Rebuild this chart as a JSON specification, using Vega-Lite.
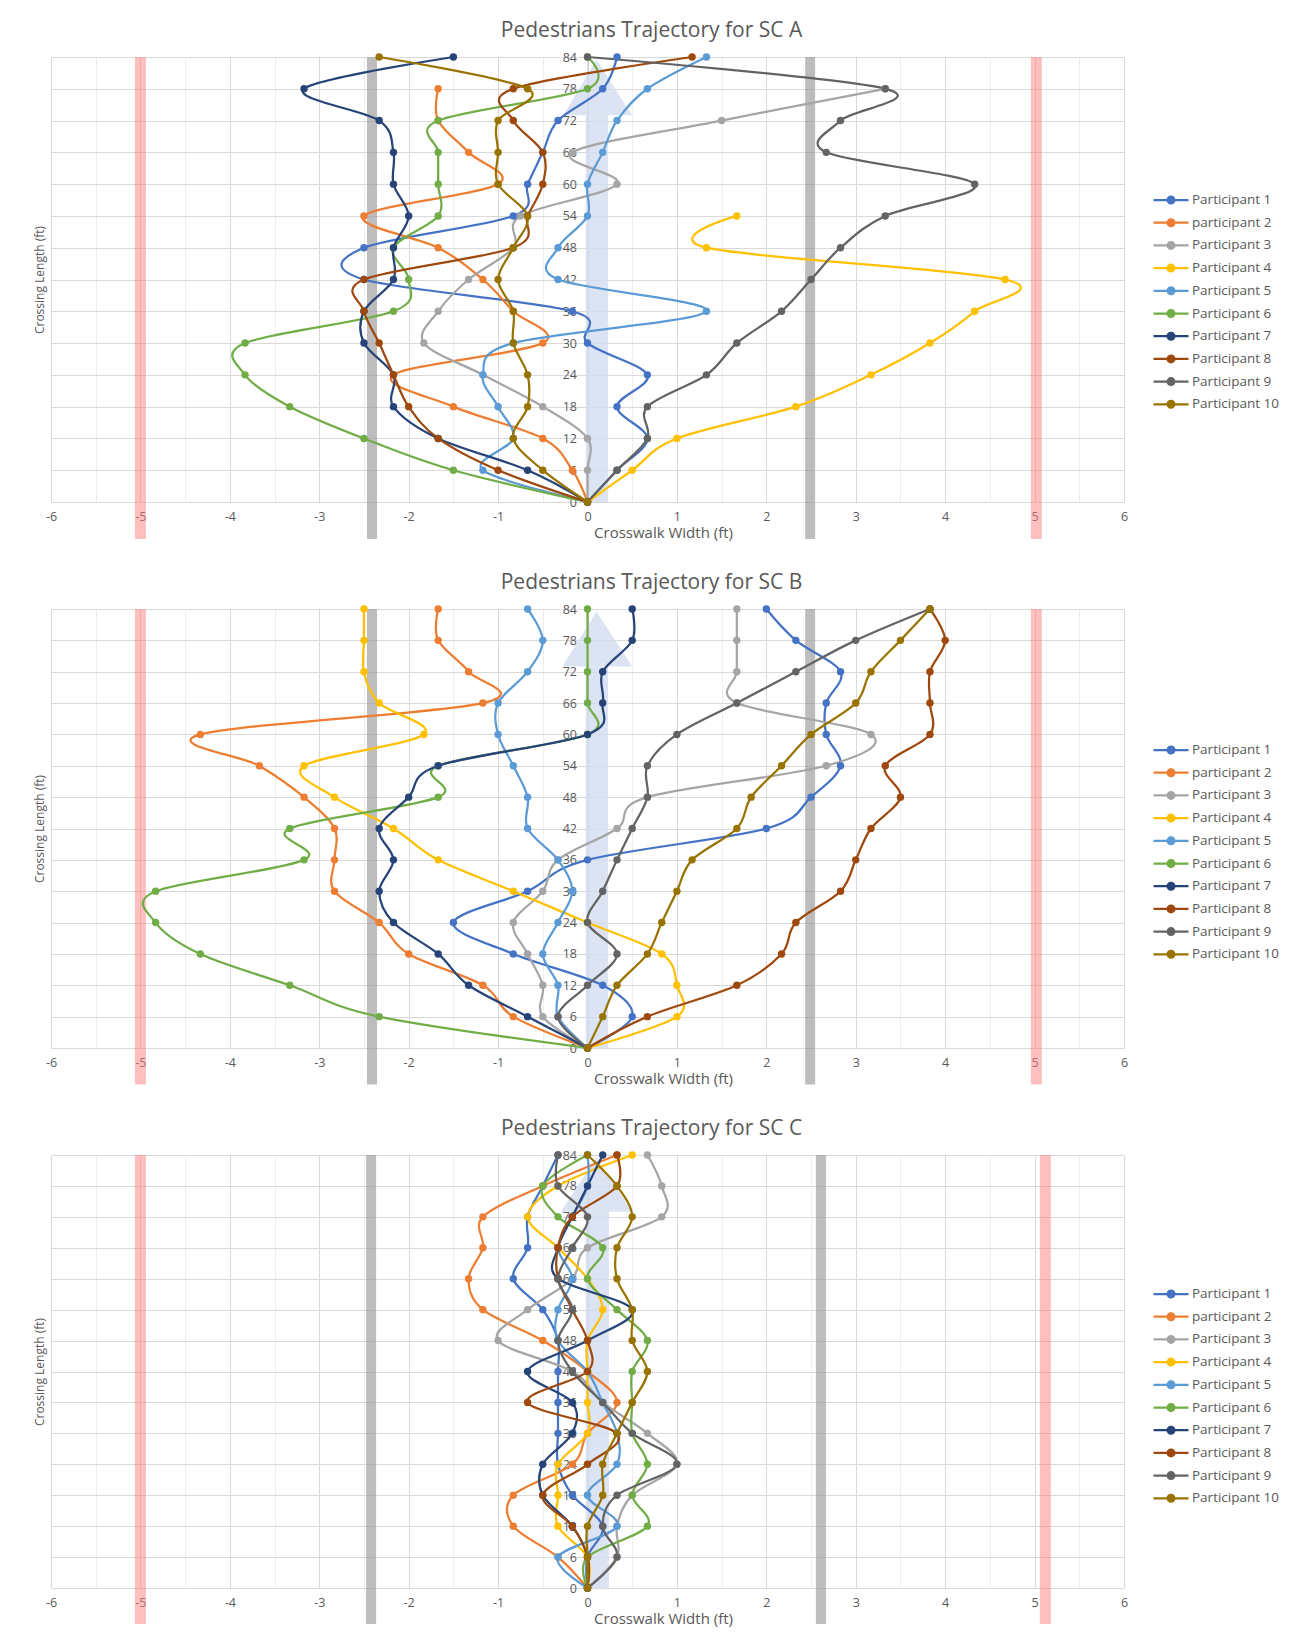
{
  "$schema": "https://vega.github.io/schema/vega-lite/v6.json",
  "padding": {"top": 20, "left": 33, "right": 0, "bottom": 0},
  "config": {
    "view": {"stroke": null},
    "font": "Open Sans",
    "axis": {"labelColor": "#595959", "titleColor": "#595959", "titleFontWeight": "normal", "labelFont": "Open Sans", "titleFont": "Open Sans"},
    "title": {"font": "Open Sans", "fontSize": 21, "fontWeight": "normal", "color": "#595959", "anchor": "middle", "baseline": "bottom", "offset": 9.6, "dx": 64},
    "legend": {"labelFont": "Open Sans"}
  },
  "datasets": {
    "scA": [
      {"participant":"Participant 1","y":0,"x":0},{"participant":"Participant 1","y":6,"x":0.33},{"participant":"Participant 1","y":12,"x":0.67},{"participant":"Participant 1","y":18,"x":0.33},{"participant":"Participant 1","y":24,"x":0.67},{"participant":"Participant 1","y":30,"x":0},{"participant":"Participant 1","y":36,"x":-0.17},{"participant":"Participant 1","y":42,"x":-2.5},{"participant":"Participant 1","y":48,"x":-2.5},{"participant":"Participant 1","y":54,"x":-0.83},{"participant":"Participant 1","y":60,"x":-0.67},{"participant":"Participant 1","y":66,"x":-0.5},{"participant":"Participant 1","y":72,"x":-0.33},{"participant":"Participant 1","y":78,"x":0.17},{"participant":"Participant 1","y":84,"x":0.33},
      {"participant":"participant 2","y":0,"x":0},{"participant":"participant 2","y":6,"x":-0.17},{"participant":"participant 2","y":12,"x":-0.5},{"participant":"participant 2","y":18,"x":-1.5},{"participant":"participant 2","y":24,"x":-2.17},{"participant":"participant 2","y":30,"x":-0.5},{"participant":"participant 2","y":36,"x":-0.83},{"participant":"participant 2","y":42,"x":-1.17},{"participant":"participant 2","y":48,"x":-1.67},{"participant":"participant 2","y":54,"x":-2.5},{"participant":"participant 2","y":60,"x":-1.0},{"participant":"participant 2","y":66,"x":-1.33},{"participant":"participant 2","y":72,"x":-1.67},{"participant":"participant 2","y":78,"x":-1.67},
      {"participant":"Participant 3","y":0,"x":0},{"participant":"Participant 3","y":6,"x":0},{"participant":"Participant 3","y":12,"x":0},{"participant":"Participant 3","y":18,"x":-0.5},{"participant":"Participant 3","y":24,"x":-1.17},{"participant":"Participant 3","y":30,"x":-1.83},{"participant":"Participant 3","y":36,"x":-1.67},{"participant":"Participant 3","y":42,"x":-1.33},{"participant":"Participant 3","y":48,"x":-0.83},{"participant":"Participant 3","y":54,"x":-0.75},{"participant":"Participant 3","y":60,"x":0.33},{"participant":"Participant 3","y":66,"x":-0.17},{"participant":"Participant 3","y":72,"x":1.5},{"participant":"Participant 3","y":78,"x":3.33},
      {"participant":"Participant 4","y":0,"x":0},{"participant":"Participant 4","y":6,"x":0.5},{"participant":"Participant 4","y":12,"x":1.0},{"participant":"Participant 4","y":18,"x":2.33},{"participant":"Participant 4","y":24,"x":3.17},{"participant":"Participant 4","y":30,"x":3.83},{"participant":"Participant 4","y":36,"x":4.33},{"participant":"Participant 4","y":42,"x":4.67},{"participant":"Participant 4","y":48,"x":1.33},{"participant":"Participant 4","y":54,"x":1.67},
      {"participant":"Participant 5","y":0,"x":0},{"participant":"Participant 5","y":6,"x":-1.17},{"participant":"Participant 5","y":12,"x":-0.83},{"participant":"Participant 5","y":18,"x":-1.0},{"participant":"Participant 5","y":24,"x":-1.17},{"participant":"Participant 5","y":30,"x":-0.83},{"participant":"Participant 5","y":36,"x":1.33},{"participant":"Participant 5","y":42,"x":-0.33},{"participant":"Participant 5","y":48,"x":-0.33},{"participant":"Participant 5","y":54,"x":0},{"participant":"Participant 5","y":60,"x":0},{"participant":"Participant 5","y":66,"x":0.17},{"participant":"Participant 5","y":72,"x":0.33},{"participant":"Participant 5","y":78,"x":0.67},{"participant":"Participant 5","y":84,"x":1.33},
      {"participant":"Participant 6","y":0,"x":0},{"participant":"Participant 6","y":6,"x":-1.5},{"participant":"Participant 6","y":12,"x":-2.5},{"participant":"Participant 6","y":18,"x":-3.33},{"participant":"Participant 6","y":24,"x":-3.83},{"participant":"Participant 6","y":30,"x":-3.83},{"participant":"Participant 6","y":36,"x":-2.17},{"participant":"Participant 6","y":42,"x":-2.0},{"participant":"Participant 6","y":48,"x":-2.17},{"participant":"Participant 6","y":54,"x":-1.67},{"participant":"Participant 6","y":60,"x":-1.67},{"participant":"Participant 6","y":66,"x":-1.67},{"participant":"Participant 6","y":72,"x":-1.67},{"participant":"Participant 6","y":78,"x":0},{"participant":"Participant 6","y":84,"x":0},
      {"participant":"Participant 7","y":0,"x":0},{"participant":"Participant 7","y":6,"x":-0.67},{"participant":"Participant 7","y":12,"x":-1.67},{"participant":"Participant 7","y":18,"x":-2.17},{"participant":"Participant 7","y":24,"x":-2.17},{"participant":"Participant 7","y":30,"x":-2.5},{"participant":"Participant 7","y":36,"x":-2.5},{"participant":"Participant 7","y":42,"x":-2.17},{"participant":"Participant 7","y":48,"x":-2.17},{"participant":"Participant 7","y":54,"x":-2.0},{"participant":"Participant 7","y":60,"x":-2.17},{"participant":"Participant 7","y":66,"x":-2.17},{"participant":"Participant 7","y":72,"x":-2.33},{"participant":"Participant 7","y":78,"x":-3.17},{"participant":"Participant 7","y":84,"x":-1.5},
      {"participant":"Participant 8","y":0,"x":0},{"participant":"Participant 8","y":6,"x":-1.0},{"participant":"Participant 8","y":12,"x":-1.67},{"participant":"Participant 8","y":18,"x":-2.0},{"participant":"Participant 8","y":24,"x":-2.17},{"participant":"Participant 8","y":30,"x":-2.33},{"participant":"Participant 8","y":36,"x":-2.5},{"participant":"Participant 8","y":42,"x":-2.5},{"participant":"Participant 8","y":48,"x":-0.83},{"participant":"Participant 8","y":54,"x":-0.67},{"participant":"Participant 8","y":60,"x":-0.5},{"participant":"Participant 8","y":66,"x":-0.5},{"participant":"Participant 8","y":72,"x":-0.83},{"participant":"Participant 8","y":78,"x":-0.83},{"participant":"Participant 8","y":84,"x":1.17},
      {"participant":"Participant 9","y":0,"x":0},{"participant":"Participant 9","y":6,"x":0.33},{"participant":"Participant 9","y":12,"x":0.67},{"participant":"Participant 9","y":18,"x":0.67},{"participant":"Participant 9","y":24,"x":1.33},{"participant":"Participant 9","y":30,"x":1.67},{"participant":"Participant 9","y":36,"x":2.17},{"participant":"Participant 9","y":42,"x":2.5},{"participant":"Participant 9","y":48,"x":2.83},{"participant":"Participant 9","y":54,"x":3.33},{"participant":"Participant 9","y":60,"x":4.33},{"participant":"Participant 9","y":66,"x":2.67},{"participant":"Participant 9","y":72,"x":2.83},{"participant":"Participant 9","y":78,"x":3.33},{"participant":"Participant 9","y":84,"x":0},
      {"participant":"Participant 10","y":0,"x":0},{"participant":"Participant 10","y":6,"x":-0.5},{"participant":"Participant 10","y":12,"x":-0.83},{"participant":"Participant 10","y":18,"x":-0.67},{"participant":"Participant 10","y":24,"x":-0.67},{"participant":"Participant 10","y":30,"x":-0.83},{"participant":"Participant 10","y":36,"x":-0.83},{"participant":"Participant 10","y":42,"x":-1.0},{"participant":"Participant 10","y":48,"x":-0.83},{"participant":"Participant 10","y":54,"x":-0.67},{"participant":"Participant 10","y":60,"x":-1.0},{"participant":"Participant 10","y":66,"x":-1.0},{"participant":"Participant 10","y":72,"x":-1.0},{"participant":"Participant 10","y":78,"x":-0.67},{"participant":"Participant 10","y":84,"x":-2.33}
    ],
    "scB": [
      {"participant":"Participant 1","y":0,"x":0},{"participant":"Participant 1","y":6,"x":0.5},{"participant":"Participant 1","y":12,"x":0.17},{"participant":"Participant 1","y":18,"x":-0.83},{"participant":"Participant 1","y":24,"x":-1.5},{"participant":"Participant 1","y":30,"x":-0.67},{"participant":"Participant 1","y":36,"x":0},{"participant":"Participant 1","y":42,"x":2.0},{"participant":"Participant 1","y":48,"x":2.5},{"participant":"Participant 1","y":54,"x":2.83},{"participant":"Participant 1","y":60,"x":2.67},{"participant":"Participant 1","y":66,"x":2.67},{"participant":"Participant 1","y":72,"x":2.83},{"participant":"Participant 1","y":78,"x":2.33},{"participant":"Participant 1","y":84,"x":2.0},
      {"participant":"participant 2","y":0,"x":0},{"participant":"participant 2","y":6,"x":-0.83},{"participant":"participant 2","y":12,"x":-1.17},{"participant":"participant 2","y":18,"x":-2.0},{"participant":"participant 2","y":24,"x":-2.33},{"participant":"participant 2","y":30,"x":-2.83},{"participant":"participant 2","y":36,"x":-2.83},{"participant":"participant 2","y":42,"x":-2.83},{"participant":"participant 2","y":48,"x":-3.17},{"participant":"participant 2","y":54,"x":-3.67},{"participant":"participant 2","y":60,"x":-4.33},{"participant":"participant 2","y":66,"x":-1.17},{"participant":"participant 2","y":72,"x":-1.33},{"participant":"participant 2","y":78,"x":-1.67},{"participant":"participant 2","y":84,"x":-1.67},
      {"participant":"Participant 3","y":0,"x":0},{"participant":"Participant 3","y":6,"x":-0.5},{"participant":"Participant 3","y":12,"x":-0.5},{"participant":"Participant 3","y":18,"x":-0.67},{"participant":"Participant 3","y":24,"x":-0.83},{"participant":"Participant 3","y":30,"x":-0.5},{"participant":"Participant 3","y":36,"x":-0.33},{"participant":"Participant 3","y":42,"x":0.33},{"participant":"Participant 3","y":48,"x":0.67},{"participant":"Participant 3","y":54,"x":2.67},{"participant":"Participant 3","y":60,"x":3.17},{"participant":"Participant 3","y":66,"x":1.67},{"participant":"Participant 3","y":72,"x":1.67},{"participant":"Participant 3","y":78,"x":1.67},{"participant":"Participant 3","y":84,"x":1.67},
      {"participant":"Participant 4","y":0,"x":0},{"participant":"Participant 4","y":6,"x":1.0},{"participant":"Participant 4","y":12,"x":1.0},{"participant":"Participant 4","y":18,"x":0.83},{"participant":"Participant 4","y":24,"x":0},{"participant":"Participant 4","y":30,"x":-0.83},{"participant":"Participant 4","y":36,"x":-1.67},{"participant":"Participant 4","y":42,"x":-2.17},{"participant":"Participant 4","y":48,"x":-2.83},{"participant":"Participant 4","y":54,"x":-3.17},{"participant":"Participant 4","y":60,"x":-1.83},{"participant":"Participant 4","y":66,"x":-2.33},{"participant":"Participant 4","y":72,"x":-2.5},{"participant":"Participant 4","y":78,"x":-2.5},{"participant":"Participant 4","y":84,"x":-2.5},
      {"participant":"Participant 5","y":0,"x":0},{"participant":"Participant 5","y":6,"x":-0.33},{"participant":"Participant 5","y":12,"x":-0.33},{"participant":"Participant 5","y":18,"x":-0.5},{"participant":"Participant 5","y":24,"x":-0.33},{"participant":"Participant 5","y":30,"x":-0.17},{"participant":"Participant 5","y":36,"x":-0.33},{"participant":"Participant 5","y":42,"x":-0.67},{"participant":"Participant 5","y":48,"x":-0.67},{"participant":"Participant 5","y":54,"x":-0.83},{"participant":"Participant 5","y":60,"x":-1.0},{"participant":"Participant 5","y":66,"x":-1.0},{"participant":"Participant 5","y":72,"x":-0.67},{"participant":"Participant 5","y":78,"x":-0.5},{"participant":"Participant 5","y":84,"x":-0.67},
      {"participant":"Participant 6","y":0,"x":0},{"participant":"Participant 6","y":6,"x":-2.33},{"participant":"Participant 6","y":12,"x":-3.33},{"participant":"Participant 6","y":18,"x":-4.33},{"participant":"Participant 6","y":24,"x":-4.83},{"participant":"Participant 6","y":30,"x":-4.83},{"participant":"Participant 6","y":36,"x":-3.17},{"participant":"Participant 6","y":42,"x":-3.33},{"participant":"Participant 6","y":48,"x":-1.67},{"participant":"Participant 6","y":54,"x":-1.67},{"participant":"Participant 6","y":60,"x":0},{"participant":"Participant 6","y":66,"x":0},{"participant":"Participant 6","y":72,"x":0},{"participant":"Participant 6","y":78,"x":0},{"participant":"Participant 6","y":84,"x":0},
      {"participant":"Participant 7","y":0,"x":0},{"participant":"Participant 7","y":6,"x":-0.67},{"participant":"Participant 7","y":12,"x":-1.33},{"participant":"Participant 7","y":18,"x":-1.67},{"participant":"Participant 7","y":24,"x":-2.17},{"participant":"Participant 7","y":30,"x":-2.33},{"participant":"Participant 7","y":36,"x":-2.17},{"participant":"Participant 7","y":42,"x":-2.33},{"participant":"Participant 7","y":48,"x":-2.0},{"participant":"Participant 7","y":54,"x":-1.67},{"participant":"Participant 7","y":60,"x":0},{"participant":"Participant 7","y":66,"x":0.17},{"participant":"Participant 7","y":72,"x":0.17},{"participant":"Participant 7","y":78,"x":0.5},{"participant":"Participant 7","y":84,"x":0.5},
      {"participant":"Participant 8","y":0,"x":0},{"participant":"Participant 8","y":6,"x":0.67},{"participant":"Participant 8","y":12,"x":1.67},{"participant":"Participant 8","y":18,"x":2.17},{"participant":"Participant 8","y":24,"x":2.33},{"participant":"Participant 8","y":30,"x":2.83},{"participant":"Participant 8","y":36,"x":3.0},{"participant":"Participant 8","y":42,"x":3.17},{"participant":"Participant 8","y":48,"x":3.5},{"participant":"Participant 8","y":54,"x":3.33},{"participant":"Participant 8","y":60,"x":3.83},{"participant":"Participant 8","y":66,"x":3.83},{"participant":"Participant 8","y":72,"x":3.83},{"participant":"Participant 8","y":78,"x":4.0},{"participant":"Participant 8","y":84,"x":3.83},
      {"participant":"Participant 9","y":0,"x":0},{"participant":"Participant 9","y":6,"x":-0.33},{"participant":"Participant 9","y":12,"x":0},{"participant":"Participant 9","y":18,"x":0.33},{"participant":"Participant 9","y":24,"x":0},{"participant":"Participant 9","y":30,"x":0.17},{"participant":"Participant 9","y":36,"x":0.33},{"participant":"Participant 9","y":42,"x":0.5},{"participant":"Participant 9","y":48,"x":0.67},{"participant":"Participant 9","y":54,"x":0.67},{"participant":"Participant 9","y":60,"x":1.0},{"participant":"Participant 9","y":66,"x":1.67},{"participant":"Participant 9","y":72,"x":2.33},{"participant":"Participant 9","y":78,"x":3.0},{"participant":"Participant 9","y":84,"x":3.83},
      {"participant":"Participant 10","y":0,"x":0},{"participant":"Participant 10","y":6,"x":0.17},{"participant":"Participant 10","y":12,"x":0.33},{"participant":"Participant 10","y":18,"x":0.67},{"participant":"Participant 10","y":24,"x":0.83},{"participant":"Participant 10","y":30,"x":1.0},{"participant":"Participant 10","y":36,"x":1.17},{"participant":"Participant 10","y":42,"x":1.67},{"participant":"Participant 10","y":48,"x":1.83},{"participant":"Participant 10","y":54,"x":2.17},{"participant":"Participant 10","y":60,"x":2.5},{"participant":"Participant 10","y":66,"x":3.0},{"participant":"Participant 10","y":72,"x":3.17},{"participant":"Participant 10","y":78,"x":3.5},{"participant":"Participant 10","y":84,"x":3.83}
    ],
    "scC": [
      {"participant":"Participant 1","y":0,"x":0},{"participant":"Participant 1","y":6,"x":0},{"participant":"Participant 1","y":12,"x":0.17},{"participant":"Participant 1","y":18,"x":-0.17},{"participant":"Participant 1","y":24,"x":-0.33},{"participant":"Participant 1","y":30,"x":-0.33},{"participant":"Participant 1","y":36,"x":-0.33},{"participant":"Participant 1","y":42,"x":-0.33},{"participant":"Participant 1","y":48,"x":-0.33},{"participant":"Participant 1","y":54,"x":-0.5},{"participant":"Participant 1","y":60,"x":-0.83},{"participant":"Participant 1","y":66,"x":-0.67},{"participant":"Participant 1","y":72,"x":-0.67},{"participant":"Participant 1","y":78,"x":-0.5},{"participant":"Participant 1","y":84,"x":-0.33},
      {"participant":"participant 2","y":0,"x":0},{"participant":"participant 2","y":6,"x":-0.33},{"participant":"participant 2","y":12,"x":-0.83},{"participant":"participant 2","y":18,"x":-0.83},{"participant":"participant 2","y":24,"x":-0.17},{"participant":"participant 2","y":30,"x":0},{"participant":"participant 2","y":36,"x":0.33},{"participant":"participant 2","y":42,"x":0},{"participant":"participant 2","y":48,"x":-0.5},{"participant":"participant 2","y":54,"x":-1.17},{"participant":"participant 2","y":60,"x":-1.33},{"participant":"participant 2","y":66,"x":-1.17},{"participant":"participant 2","y":72,"x":-1.17},{"participant":"participant 2","y":78,"x":-0.5},{"participant":"participant 2","y":84,"x":0.33},
      {"participant":"Participant 3","y":0,"x":0},{"participant":"Participant 3","y":6,"x":0.33},{"participant":"Participant 3","y":12,"x":0.33},{"participant":"Participant 3","y":18,"x":0.5},{"participant":"Participant 3","y":24,"x":1.0},{"participant":"Participant 3","y":30,"x":0.67},{"participant":"Participant 3","y":36,"x":0.17},{"participant":"Participant 3","y":42,"x":-0.17},{"participant":"Participant 3","y":48,"x":-1.0},{"participant":"Participant 3","y":54,"x":-0.67},{"participant":"Participant 3","y":60,"x":-0.17},{"participant":"Participant 3","y":66,"x":0},{"participant":"Participant 3","y":72,"x":0.83},{"participant":"Participant 3","y":78,"x":0.83},{"participant":"Participant 3","y":84,"x":0.67},
      {"participant":"Participant 4","y":0,"x":0},{"participant":"Participant 4","y":6,"x":0},{"participant":"Participant 4","y":12,"x":-0.33},{"participant":"Participant 4","y":18,"x":-0.33},{"participant":"Participant 4","y":24,"x":-0.33},{"participant":"Participant 4","y":30,"x":0},{"participant":"Participant 4","y":36,"x":0},{"participant":"Participant 4","y":42,"x":0},{"participant":"Participant 4","y":48,"x":0},{"participant":"Participant 4","y":54,"x":0.17},{"participant":"Participant 4","y":60,"x":0},{"participant":"Participant 4","y":66,"x":-0.33},{"participant":"Participant 4","y":72,"x":-0.67},{"participant":"Participant 4","y":78,"x":-0.33},{"participant":"Participant 4","y":84,"x":0.5},
      {"participant":"Participant 5","y":0,"x":0},{"participant":"Participant 5","y":6,"x":-0.33},{"participant":"Participant 5","y":12,"x":0.33},{"participant":"Participant 5","y":18,"x":0},{"participant":"Participant 5","y":24,"x":0.33},{"participant":"Participant 5","y":30,"x":0.33},{"participant":"Participant 5","y":36,"x":0.17},{"participant":"Participant 5","y":42,"x":0},{"participant":"Participant 5","y":48,"x":-0.33},{"participant":"Participant 5","y":54,"x":-0.33},{"participant":"Participant 5","y":60,"x":-0.17},{"participant":"Participant 5","y":66,"x":-0.33},{"participant":"Participant 5","y":72,"x":-0.17},{"participant":"Participant 5","y":78,"x":0},{"participant":"Participant 5","y":84,"x":0},
      {"participant":"Participant 6","y":0,"x":0},{"participant":"Participant 6","y":6,"x":0},{"participant":"Participant 6","y":12,"x":0.67},{"participant":"Participant 6","y":18,"x":0.5},{"participant":"Participant 6","y":24,"x":0.67},{"participant":"Participant 6","y":30,"x":0.5},{"participant":"Participant 6","y":36,"x":0.5},{"participant":"Participant 6","y":42,"x":0.5},{"participant":"Participant 6","y":48,"x":0.67},{"participant":"Participant 6","y":54,"x":0.33},{"participant":"Participant 6","y":60,"x":0},{"participant":"Participant 6","y":66,"x":0.17},{"participant":"Participant 6","y":72,"x":-0.33},{"participant":"Participant 6","y":78,"x":-0.5},{"participant":"Participant 6","y":84,"x":0},
      {"participant":"Participant 7","y":0,"x":0},{"participant":"Participant 7","y":6,"x":0},{"participant":"Participant 7","y":12,"x":-0.17},{"participant":"Participant 7","y":18,"x":-0.5},{"participant":"Participant 7","y":24,"x":-0.5},{"participant":"Participant 7","y":30,"x":-0.17},{"participant":"Participant 7","y":36,"x":-0.17},{"participant":"Participant 7","y":42,"x":-0.67},{"participant":"Participant 7","y":48,"x":0},{"participant":"Participant 7","y":54,"x":0.5},{"participant":"Participant 7","y":60,"x":-0.33},{"participant":"Participant 7","y":66,"x":-0.33},{"participant":"Participant 7","y":72,"x":-0.17},{"participant":"Participant 7","y":78,"x":0},{"participant":"Participant 7","y":84,"x":0.17},
      {"participant":"Participant 8","y":0,"x":0},{"participant":"Participant 8","y":6,"x":0},{"participant":"Participant 8","y":12,"x":-0.17},{"participant":"Participant 8","y":18,"x":-0.5},{"participant":"Participant 8","y":24,"x":0},{"participant":"Participant 8","y":30,"x":0.33},{"participant":"Participant 8","y":36,"x":-0.67},{"participant":"Participant 8","y":42,"x":0},{"participant":"Participant 8","y":48,"x":0},{"participant":"Participant 8","y":54,"x":-0.17},{"participant":"Participant 8","y":60,"x":-0.33},{"participant":"Participant 8","y":66,"x":-0.33},{"participant":"Participant 8","y":72,"x":-0.17},{"participant":"Participant 8","y":78,"x":0.33},{"participant":"Participant 8","y":84,"x":0.33},
      {"participant":"Participant 9","y":0,"x":0},{"participant":"Participant 9","y":6,"x":0.33},{"participant":"Participant 9","y":12,"x":0.17},{"participant":"Participant 9","y":18,"x":0.33},{"participant":"Participant 9","y":24,"x":1.0},{"participant":"Participant 9","y":30,"x":0.5},{"participant":"Participant 9","y":36,"x":0.17},{"participant":"Participant 9","y":42,"x":-0.17},{"participant":"Participant 9","y":48,"x":-0.33},{"participant":"Participant 9","y":54,"x":-0.17},{"participant":"Participant 9","y":60,"x":-0.33},{"participant":"Participant 9","y":66,"x":-0.17},{"participant":"Participant 9","y":72,"x":0},{"participant":"Participant 9","y":78,"x":-0.33},{"participant":"Participant 9","y":84,"x":-0.33},
      {"participant":"Participant 10","y":0,"x":0},{"participant":"Participant 10","y":6,"x":0},{"participant":"Participant 10","y":12,"x":0},{"participant":"Participant 10","y":18,"x":0.17},{"participant":"Participant 10","y":24,"x":0.17},{"participant":"Participant 10","y":30,"x":0.33},{"participant":"Participant 10","y":36,"x":0.5},{"participant":"Participant 10","y":42,"x":0.67},{"participant":"Participant 10","y":48,"x":0.5},{"participant":"Participant 10","y":54,"x":0.5},{"participant":"Participant 10","y":60,"x":0.33},{"participant":"Participant 10","y":66,"x":0.33},{"participant":"Participant 10","y":72,"x":0.5},{"participant":"Participant 10","y":78,"x":0.33},{"participant":"Participant 10","y":84,"x":0}
    ]
  },
  "bounds": "flush",
  "spacing": 107,
  "resolve": {
    "scale": {"x": "independent", "y": "independent", "color": "independent"},
    "axis": {"x": "independent", "y": "independent"},
    "legend": {"color": "independent"}
  },
  "vconcat": [
    {
      "width": 1073,
      "height": 445,
      "title": {"text": "Pedestrians Trajectory for SC A"},
      "encoding": {
        "x": {"field": "x", "type": "quantitative", "scale": {"domain": [-6, 6], "nice": false},
          "axis": {"title": "Crosswalk Width (ft)", "values": [-6,-5.5,-5,-4.5,-4,-3.5,-3,-2.5,-2,-1.5,-1,-0.5,0,0.5,1,1.5,2,2.5,3,3.5,4,4.5,5,5.5,6], "labelExpr": "datum.value % 1 === 0 ? '' + datum.value : ''", "labelOverlap": false, "labelFlush": false, "ticks": false, "domain": true, "domainColor": "#D9D9D9", "grid": true, "gridColor": {"condition": {"test": "datum.value % 1 === 0", "value": "#D9D9D9"}, "value": "#EEEEEE"}, "labelFontSize": 12.5, "labelPadding": 8, "titleFontSize": 15, "titlePadding": 3, "titleX": 612, "zindex": 0}}
      },
      "layer": [
        {
          "data": {"values": [{"x": -5}, {"x": 5.02}]},
          "mark": {"type": "rule", "color": "#FF8080", "opacity": 0.5, "strokeWidth": 11},
          "encoding": {
            "y": {"datum": 84, "type": "quantitative", "scale": {"domain": [0, 84], "nice": false},
              "axis": {"title": "Crossing Length (ft)", "orient": "left", "values": [0,6,12,18,24,30,36,42,48,54,60,66,72,78,84], "labels": false, "ticks": false, "domain": false, "grid": true, "gridColor": "#D9D9D9", "titleFontSize": 12, "titlePadding": 5, "zindex": 0}},
            "y2": {"datum": -7}
          }
        },
        {
          "data": {"values": [{"x": -2.41}, {"x": 2.49}]},
          "mark": {"type": "rule", "color": "#9A9A9A", "opacity": 0.65, "strokeWidth": 10},
          "encoding": {"y": {"datum": 84, "type": "quantitative", "axis": null}, "y2": {"datum": -7}}
        },
        {
          "data": {"values": [{"x": -0.02, "x2": 0.23, "y": 0, "y2": 73}]},
          "mark": {"type": "rect", "color": "#D3DDF1", "opacity": 0.8},
          "encoding": {"x2": {"field": "x2"}, "y": {"field": "y", "type": "quantitative", "axis": null}, "y2": {"field": "y2"}}
        },
        {
          "data": {"values": [{"y": 73, "x": -0.27, "x2": 0.5}, {"y": 83.5, "x": 0.1, "x2": 0.1}]},
          "mark": {"type": "area", "orient": "horizontal", "color": "#D3DDF1", "opacity": 0.8},
          "encoding": {"x2": {"field": "x2"}, "y": {"field": "y", "type": "quantitative", "axis": null}}
        },
        {
          "data": {"name": "scA"},
          "mark": {"type": "line", "interpolate": "cardinal", "strokeWidth": 2.25, "point": {"filled": true, "size": 55, "opacity": 1}},
          "encoding": {
            "y": {"field": "y", "type": "quantitative",
              "axis": {"title": null, "orient": "left", "offset": -536.5, "values": [0,6,12,18,24,30,36,42,48,54,60,66,72,78,84], "grid": false, "ticks": false, "domain": true, "domainColor": "#BFBFBF", "labelPadding": 11, "labelFontSize": 12.5, "labelFlush": false, "labelOverlap": false, "zindex": 0}},
            "color": {"field": "participant", "type": "nominal",
              "scale": {"domain": ["Participant 1","participant 2","Participant 3","Participant 4","Participant 5","Participant 6","Participant 7","Participant 8","Participant 9","Participant 10"], "range": ["#4472C4","#ED7D31","#A5A5A5","#FFC000","#5B9BD5","#70AD47","#264478","#9E480E","#636363","#997300"]},
              "legend": {"title": null, "orient": "none", "legendX": 1121, "legendY": 134, "padding": 0, "symbolType": "M-3.667,0L1,0M-0.88,0A0.453,0.453,0,1,1,-1.786,0A0.453,0.453,0,1,1,-0.88,0M-1.026,0A0.307,0.307,0,1,1,-1.64,0A0.307,0.307,0,1,1,-1.026,0M-1.173,0A0.16,0.16,0,1,1,-1.493,0A0.16,0.16,0,1,1,-1.173,0", "symbolSize": 225, "symbolStrokeWidth": 2.25, "labelFontSize": 13.5, "labelColor": "#595959", "labelOffset": 2, "rowPadding": 5.7}},
            "order": {"field": "y", "type": "quantitative"}
          }
        }
      ],
      "resolve": {"axis": {"y": "independent"}}
    },
    {
      "width": 1073,
      "height": 439,
      "title": {"text": "Pedestrians Trajectory for SC B"},
      "encoding": {
        "x": {"field": "x", "type": "quantitative", "scale": {"domain": [-6, 6], "nice": false},
          "axis": {"title": "Crosswalk Width (ft)", "values": [-6,-5.5,-5,-4.5,-4,-3.5,-3,-2.5,-2,-1.5,-1,-0.5,0,0.5,1,1.5,2,2.5,3,3.5,4,4.5,5,5.5,6], "labelExpr": "datum.value % 1 === 0 ? '' + datum.value : ''", "labelOverlap": false, "labelFlush": false, "ticks": false, "domain": true, "domainColor": "#D9D9D9", "grid": true, "gridColor": {"condition": {"test": "datum.value % 1 === 0", "value": "#D9D9D9"}, "value": "#EEEEEE"}, "labelFontSize": 12.5, "labelPadding": 8, "titleFontSize": 15, "titlePadding": 3, "titleX": 612, "zindex": 0}}
      },
      "layer": [
        {
          "data": {"values": [{"x": -5}, {"x": 5.02}]},
          "mark": {"type": "rule", "color": "#FF8080", "opacity": 0.5, "strokeWidth": 11},
          "encoding": {
            "y": {"datum": 84, "type": "quantitative", "scale": {"domain": [0, 84], "nice": false},
              "axis": {"title": "Crossing Length (ft)", "orient": "left", "values": [0,6,12,18,24,30,36,42,48,54,60,66,72,78,84], "labels": false, "ticks": false, "domain": false, "grid": true, "gridColor": "#D9D9D9", "titleFontSize": 12, "titlePadding": 5, "zindex": 0}},
            "y2": {"datum": -7}
          }
        },
        {
          "data": {"values": [{"x": -2.41}, {"x": 2.49}]},
          "mark": {"type": "rule", "color": "#9A9A9A", "opacity": 0.65, "strokeWidth": 10},
          "encoding": {"y": {"datum": 84, "type": "quantitative", "axis": null}, "y2": {"datum": -7}}
        },
        {
          "data": {"values": [{"x": -0.02, "x2": 0.23, "y": 0, "y2": 73}]},
          "mark": {"type": "rect", "color": "#D3DDF1", "opacity": 0.8},
          "encoding": {"x2": {"field": "x2"}, "y": {"field": "y", "type": "quantitative", "axis": null}, "y2": {"field": "y2"}}
        },
        {
          "data": {"values": [{"y": 73, "x": -0.28, "x2": 0.5}, {"y": 83.5, "x": 0.1, "x2": 0.1}]},
          "mark": {"type": "area", "orient": "horizontal", "color": "#D3DDF1", "opacity": 0.8},
          "encoding": {"x2": {"field": "x2"}, "y": {"field": "y", "type": "quantitative", "axis": null}}
        },
        {
          "data": {"name": "scB"},
          "mark": {"type": "line", "interpolate": "cardinal", "strokeWidth": 2.25, "point": {"filled": true, "size": 55, "opacity": 1}},
          "encoding": {
            "y": {"field": "y", "type": "quantitative",
              "axis": {"title": null, "orient": "left", "offset": -536.5, "values": [0,6,12,18,24,30,36,42,48,54,60,66,72,78,84], "grid": false, "ticks": false, "domain": true, "domainColor": "#BFBFBF", "labelPadding": 11, "labelFontSize": 12.5, "labelFlush": false, "labelOverlap": false, "zindex": 0}},
            "color": {"field": "participant", "type": "nominal",
              "scale": {"domain": ["Participant 1","participant 2","Participant 3","Participant 4","Participant 5","Participant 6","Participant 7","Participant 8","Participant 9","Participant 10"], "range": ["#4472C4","#ED7D31","#A5A5A5","#FFC000","#5B9BD5","#70AD47","#264478","#9E480E","#636363","#997300"]},
              "legend": {"title": null, "orient": "none", "legendX": 1121, "legendY": 132, "padding": 0, "symbolType": "M-3.667,0L1,0M-0.88,0A0.453,0.453,0,1,1,-1.786,0A0.453,0.453,0,1,1,-0.88,0M-1.026,0A0.307,0.307,0,1,1,-1.64,0A0.307,0.307,0,1,1,-1.026,0M-1.173,0A0.16,0.16,0,1,1,-1.493,0A0.16,0.16,0,1,1,-1.173,0", "symbolSize": 225, "symbolStrokeWidth": 2.25, "labelFontSize": 13.5, "labelColor": "#595959", "labelOffset": 2, "rowPadding": 5.7}},
            "order": {"field": "y", "type": "quantitative"}
          }
        }
      ],
      "resolve": {"axis": {"y": "independent"}}
    },
    {
      "width": 1073,
      "height": 433,
      "title": {"text": "Pedestrians Trajectory for SC C"},
      "encoding": {
        "x": {"field": "x", "type": "quantitative", "scale": {"domain": [-6, 6], "nice": false},
          "axis": {"title": "Crosswalk Width (ft)", "values": [-6,-5.5,-5,-4.5,-4,-3.5,-3,-2.5,-2,-1.5,-1,-0.5,0,0.5,1,1.5,2,2.5,3,3.5,4,4.5,5,5.5,6], "labelExpr": "datum.value % 1 === 0 ? '' + datum.value : ''", "labelOverlap": false, "labelFlush": false, "ticks": false, "domain": true, "domainColor": "#D9D9D9", "grid": true, "gridColor": {"condition": {"test": "datum.value % 1 === 0", "value": "#D9D9D9"}, "value": "#EEEEEE"}, "labelFontSize": 12.5, "labelPadding": 8, "titleFontSize": 15, "titlePadding": 3, "titleX": 612, "zindex": 0}}
      },
      "layer": [
        {
          "data": {"values": [{"x": -5}, {"x": 5.12}]},
          "mark": {"type": "rule", "color": "#FF8080", "opacity": 0.5, "strokeWidth": 11},
          "encoding": {
            "y": {"datum": 84, "type": "quantitative", "scale": {"domain": [0, 84], "nice": false},
              "axis": {"title": "Crossing Length (ft)", "orient": "left", "values": [0,6,12,18,24,30,36,42,48,54,60,66,72,78,84], "labels": false, "ticks": false, "domain": false, "grid": true, "gridColor": "#D9D9D9", "titleFontSize": 12, "titlePadding": 5, "zindex": 0}},
            "y2": {"datum": -7}
          }
        },
        {
          "data": {"values": [{"x": -2.42}, {"x": 2.61}]},
          "mark": {"type": "rule", "color": "#9A9A9A", "opacity": 0.65, "strokeWidth": 10},
          "encoding": {"y": {"datum": 84, "type": "quantitative", "axis": null}, "y2": {"datum": -7}}
        },
        {
          "data": {"values": [{"x": -0.02, "x2": 0.24, "y": 0, "y2": 73}]},
          "mark": {"type": "rect", "color": "#D3DDF1", "opacity": 0.8},
          "encoding": {"x2": {"field": "x2"}, "y": {"field": "y", "type": "quantitative", "axis": null}, "y2": {"field": "y2"}}
        },
        {
          "data": {"values": [{"y": 73, "x": -0.3, "x2": 0.5}, {"y": 83.5, "x": 0.1, "x2": 0.1}]},
          "mark": {"type": "area", "orient": "horizontal", "color": "#D3DDF1", "opacity": 0.8},
          "encoding": {"x2": {"field": "x2"}, "y": {"field": "y", "type": "quantitative", "axis": null}}
        },
        {
          "data": {"name": "scC"},
          "mark": {"type": "line", "interpolate": "cardinal", "strokeWidth": 2.25, "point": {"filled": true, "size": 55, "opacity": 1}},
          "encoding": {
            "y": {"field": "y", "type": "quantitative",
              "axis": {"title": null, "orient": "left", "offset": -536.5, "values": [0,6,12,18,24,30,36,42,48,54,60,66,72,78,84], "grid": false, "ticks": false, "domain": true, "domainColor": "#BFBFBF", "labelPadding": 11, "labelFontSize": 12.5, "labelFlush": false, "labelOverlap": false, "zindex": 0}},
            "color": {"field": "participant", "type": "nominal",
              "scale": {"domain": ["Participant 1","participant 2","Participant 3","Participant 4","Participant 5","Participant 6","Participant 7","Participant 8","Participant 9","Participant 10"], "range": ["#4472C4","#ED7D31","#A5A5A5","#FFC000","#5B9BD5","#70AD47","#264478","#9E480E","#636363","#997300"]},
              "legend": {"title": null, "orient": "none", "legendX": 1121, "legendY": 130, "padding": 0, "symbolType": "M-3.667,0L1,0M-0.88,0A0.453,0.453,0,1,1,-1.786,0A0.453,0.453,0,1,1,-0.88,0M-1.026,0A0.307,0.307,0,1,1,-1.64,0A0.307,0.307,0,1,1,-1.026,0M-1.173,0A0.16,0.16,0,1,1,-1.493,0A0.16,0.16,0,1,1,-1.173,0", "symbolSize": 225, "symbolStrokeWidth": 2.25, "labelFontSize": 13.5, "labelColor": "#595959", "labelOffset": 2, "rowPadding": 5.7}},
            "order": {"field": "y", "type": "quantitative"}
          }
        }
      ],
      "resolve": {"axis": {"y": "independent"}}
    }
  ]
}
